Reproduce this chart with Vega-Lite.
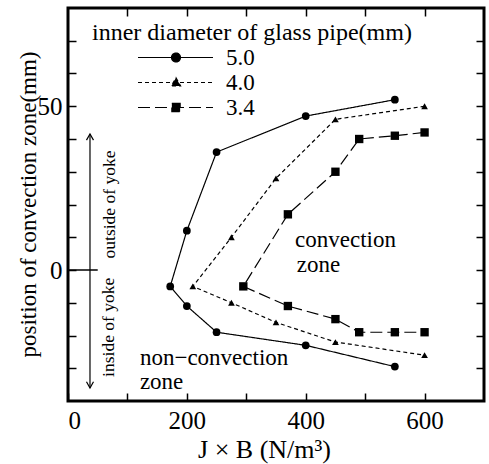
{
  "$schema": "https://vega.github.io/schema/vega-lite/v6.json",
  "autosize": {"type": "none"},
  "width": 416,
  "height": 393,
  "padding": {"left": 68, "top": 8, "right": 5, "bottom": 63},
  "background": "white",
  "config": {
    "view": {"stroke": "black", "strokeWidth": 3},
    "font": "Liberation Serif",
    "axis": {
      "domain": false, "grid": false,
      "tickColor": "black", "tickWidth": 1.5, "tickSize": -8,
      "labelFont": "Liberation Serif", "labelFontSize": 25, "labelColor": "black",
      "titleFont": "Liberation Serif", "titleFontSize": 25, "titleFontWeight": "normal", "titleColor": "black"
    },
    "legend": {
      "titleFont": "Liberation Serif", "titleFontSize": 24, "titleFontWeight": "normal", "titleColor": "black",
      "labelFont": "Liberation Serif", "labelFontSize": 23, "labelColor": "black",
      "symbolSize": 529
    },
    "text": {"font": "Liberation Serif", "color": "black"}
  },
  "datasets": {
    "series": [
      {"d": "5.0", "o": 1, "x": 550, "y": 52},
      {"d": "5.0", "o": 2, "x": 400, "y": 47},
      {"d": "5.0", "o": 3, "x": 250, "y": 36},
      {"d": "5.0", "o": 4, "x": 200, "y": 12},
      {"d": "5.0", "o": 5, "x": 172, "y": -5},
      {"d": "5.0", "o": 6, "x": 200, "y": -11},
      {"d": "5.0", "o": 7, "x": 250, "y": -19},
      {"d": "5.0", "o": 8, "x": 400, "y": -23},
      {"d": "5.0", "o": 9, "x": 550, "y": -29.5},
      {"d": "4.0", "o": 1, "x": 600, "y": 50},
      {"d": "4.0", "o": 2, "x": 450, "y": 46},
      {"d": "4.0", "o": 3, "x": 350, "y": 28},
      {"d": "4.0", "o": 4, "x": 275, "y": 10},
      {"d": "4.0", "o": 5, "x": 210, "y": -5},
      {"d": "4.0", "o": 6, "x": 275, "y": -10},
      {"d": "4.0", "o": 7, "x": 350, "y": -16},
      {"d": "4.0", "o": 8, "x": 450, "y": -22},
      {"d": "4.0", "o": 9, "x": 600, "y": -26},
      {"d": "3.4", "o": 1, "x": 600, "y": 42},
      {"d": "3.4", "o": 2, "x": 550, "y": 41},
      {"d": "3.4", "o": 3, "x": 490, "y": 40},
      {"d": "3.4", "o": 4, "x": 450, "y": 30},
      {"d": "3.4", "o": 5, "x": 370, "y": 17},
      {"d": "3.4", "o": 6, "x": 295, "y": -5},
      {"d": "3.4", "o": 7, "x": 370, "y": -11},
      {"d": "3.4", "o": 8, "x": 450, "y": -15},
      {"d": "3.4", "o": 9, "x": 490, "y": -19},
      {"d": "3.4", "o": 10, "x": 550, "y": -19},
      {"d": "3.4", "o": 11, "x": 600, "y": -19}
    ],
    "notes": [
      {"t": "convection", "x": 382, "y": 6.9},
      {"t": "zone", "x": 385, "y": -0.7},
      {"t": "non−convection", "x": 121, "y": -29.0},
      {"t": "zone", "x": 121, "y": -36.2}
    ],
    "yoke": [
      {"t": "outside of yoke", "x": 71, "y": 20},
      {"t": "inside of yoke", "x": 69, "y": -17.5}
    ]
  },
  "layer": [
    {
      "data": {"name": "series"},
      "mark": {"type": "line", "color": "black", "strokeWidth": 1.2},
      "encoding": {
        "x": {"field": "x", "type": "quantitative",
              "scale": {"domain": [0, 700], "nice": false, "zero": false},
              "axis": {"orient": "bottom", "values": [0, 100, 200, 300, 400, 500, 600],
                       "labelExpr": "datum.value % 200 == 0 ? datum.label : ''",
                       "labelPadding": 15, "title": "J × B (N/m³)", "titleFontSize": 26, "titlePadding": 3, "titleX": 196}},
        "y": {"field": "y", "type": "quantitative",
              "scale": {"domain": [-40, 80], "nice": false, "zero": false},
              "axis": {"orient": "left", "values": [-30, -20, -10, 0, 10, 20, 30, 40, 50, 60, 70],
                       "labelExpr": "datum.value == 0 || datum.value == 50 ? datum.label : ''",
                       "labelPadding": 14, "title": "position of convection zone(mm)", "titleFontSize": 23,
                       "titleX": -40, "titleY": 196, "titleAngle": 270, "titleBaseline": "middle", "titleAlign": "center"}},
        "detail": {"field": "d"},
        "order": {"field": "o", "type": "quantitative"},
        "strokeDash": {"field": "d", "type": "nominal",
          "scale": {"domain": ["5.0", "4.0", "3.4"], "range": [[1, 0], [4, 3], [12, 5]]},
          "legend": {
            "title": "inner diameter of glass pipe(mm)",
            "orient": "none", "legendX": 24, "legendY": 13, "padding": 0,
            "titleFont": "Liberation Serif", "titleFontSize": 24, "titleFontWeight": "normal", "titleColor": "black",
            "titleLimit": 600, "titlePadding": 0,
            "labelFont": "Liberation Serif", "labelFontSize": 23, "labelColor": "black", "labelOffset": 109,
            "symbolSize": 529, "symbolStrokeWidth": 1.2, "symbolStrokeColor": "black", "symbolFillColor": "black",
            "rowPadding": 0,
            "encode": {"symbols": {"update": {"stroke": {"value": "black"}, "strokeWidth": {"value": 1.2}, "fill": {"value": "black"}}}}
          }}
      }
    },
    {
      "data": {"name": "series"},
      "transform": [{"filter": "false"}],
      "mark": {"type": "point", "filled": true, "color": "black", "stroke": "black", "strokeWidth": 1.2, "opacity": 1},
      "encoding": {
        "x": {"field": "x", "type": "quantitative", "axis": null},
        "y": {"field": "y", "type": "quantitative", "axis": null},
        "shape": {"field": "d", "type": "nominal",
          "scale": {"domain": ["5.0", "4.0", "3.4"],
                    "range": ["M2.913,0H9.435M5.827,0A0.39,0.39,0,1,1,6.607,0A0.39,0.39,0,1,1,5.827,0Z",
                              "M2.913,0H9.435M6.217,-0.42L6.617,0.3L5.817,0.3Z",
                              "M2.913,0H9.435M5.857,-0.36H6.577V0.36H5.857Z"]},
          "legend": {
            "title": "inner diameter of glass pipe(mm)",
            "orient": "none", "legendX": 24, "legendY": 13, "padding": 0,
            "titleLimit": 600, "titlePadding": 0, "labelOffset": 109,
            "symbolSize": 529, "symbolStrokeWidth": 1.2, "symbolStrokeColor": "black", "symbolFillColor": "black",
            "rowPadding": 0,
            "encode": {"symbols": {"update": {"stroke": {"value": "black"}, "strokeWidth": {"value": 1.2}, "fill": {"value": "black"}}}}
          }}
      }
    },
    {
      "data": {"name": "series"},
      "transform": [{"filter": "datum.d == '5.0'"}],
      "mark": {"type": "point", "shape": "circle", "size": 60, "filled": true, "color": "black", "opacity": 1},
      "encoding": {
        "x": {"field": "x", "type": "quantitative",
              "axis": {"orient": "top", "values": [100, 200, 300, 400, 500, 600], "labels": false, "title": null}},
        "y": {"field": "y", "type": "quantitative",
              "axis": {"orient": "right", "values": [-30, -20, -10, 0, 10, 20, 30, 40, 50, 60, 70], "labels": false, "title": null}}
      }
    },
    {
      "data": {"name": "series"},
      "transform": [{"filter": "datum.d == '4.0'"}],
      "mark": {"type": "point", "shape": "triangle-up", "size": 45, "filled": true, "color": "black", "opacity": 1},
      "encoding": {
        "x": {"field": "x", "type": "quantitative", "axis": null},
        "y": {"field": "y", "type": "quantitative", "axis": null}
      }
    },
    {
      "data": {"name": "series"},
      "transform": [{"filter": "datum.d == '3.4'"}],
      "mark": {"type": "point", "shape": "square", "size": 70, "filled": true, "color": "black", "opacity": 1},
      "encoding": {
        "x": {"field": "x", "type": "quantitative", "axis": null},
        "y": {"field": "y", "type": "quantitative", "axis": null}
      }
    },
    {
      "data": {"name": "notes"},
      "mark": {"type": "text", "align": "left", "baseline": "alphabetic", "fontSize": 23},
      "encoding": {
        "x": {"field": "x", "type": "quantitative", "axis": null},
        "y": {"field": "y", "type": "quantitative", "axis": null},
        "text": {"field": "t"}
      }
    },
    {
      "data": {"name": "yoke"},
      "mark": {"type": "text", "align": "center", "baseline": "middle", "fontSize": 17.5, "angle": 270},
      "encoding": {
        "x": {"field": "x", "type": "quantitative", "axis": null},
        "y": {"field": "y", "type": "quantitative", "axis": null},
        "text": {"field": "t"}
      }
    },
    {
      "data": {"values": [{}]},
      "mark": {"type": "rule", "color": "black", "strokeWidth": 1.2},
      "encoding": {
        "x": {"datum": 37, "type": "quantitative", "axis": null},
        "y": {"datum": -36, "type": "quantitative", "axis": null},
        "y2": {"datum": 41.5}
      }
    },
    {
      "data": {"values": [{}]},
      "mark": {"type": "rule", "color": "black", "strokeWidth": 1.5},
      "encoding": {
        "x": {"datum": 0, "type": "quantitative", "axis": null},
        "x2": {"datum": 50},
        "y": {"datum": 0, "type": "quantitative", "axis": null}
      }
    },
    {
      "data": {"values": [{}]},
      "mark": {"type": "point", "shape": "M-1,0.8L0,-1L1,0.8", "filled": false, "color": "black", "strokeWidth": 1.2, "size": 49, "opacity": 1},
      "encoding": {
        "x": {"datum": 37, "type": "quantitative", "axis": null},
        "y": {"datum": 40.5, "type": "quantitative", "axis": null}
      }
    },
    {
      "data": {"values": [{}]},
      "mark": {"type": "point", "shape": "M-1,-0.8L0,1L1,-0.8", "filled": false, "color": "black", "strokeWidth": 1.2, "size": 49, "opacity": 1},
      "encoding": {
        "x": {"datum": 37, "type": "quantitative", "axis": null},
        "y": {"datum": -35, "type": "quantitative", "axis": null}
      }
    }
  ],
  "resolve": {"axis": {"x": "independent", "y": "independent"}}
}
